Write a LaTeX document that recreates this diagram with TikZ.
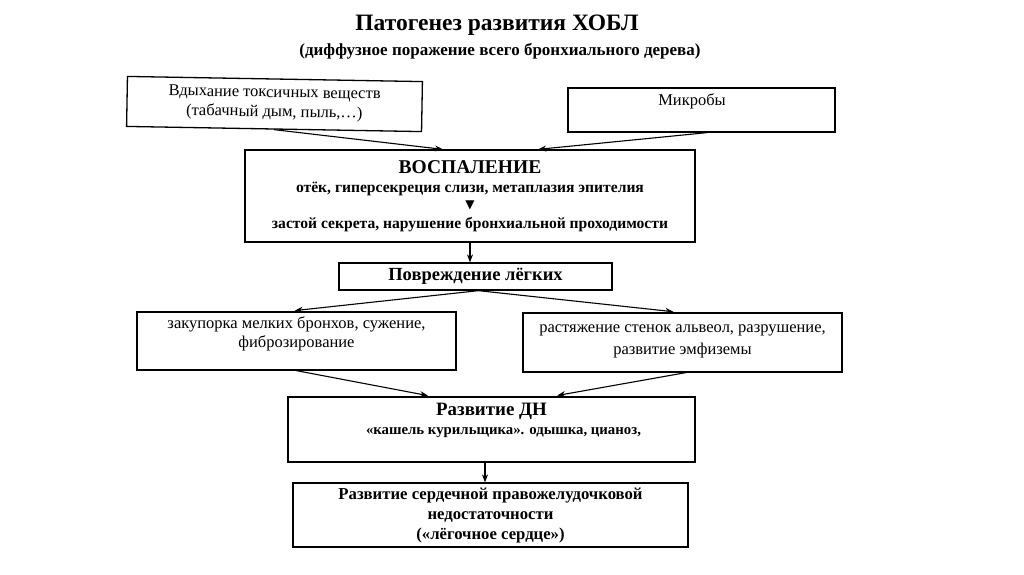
\documentclass[tikz,border=0pt]{standalone}
\usepackage{fontspec}
\setmainfont{Liberation Serif}
\newfontfamily\symfont{DejaVu Sans}
\usetikzlibrary{calc,arrows.meta}
% #1 width, #2 height, #3 top padding, #4 content
\newcommand{\tbox}[4]{\parbox[c][#2pt][t]{#1pt}{\vspace*{#3pt}\centering\strut #4\par}}
\tikzset{
  box/.style={draw, line width=1.3pt, inner sep=0pt},
  arr/.style={-{Stealth[length=8pt,width=6pt]}, line width=1.1pt},
  txt/.style={font=\fontsize{16.5}{19.5}\selectfont},
  btxt/.style={font=\bfseries\fontsize{15.6}{19}\selectfont},
}
\begin{document}
\begin{tikzpicture}[x=1pt,y=-1pt]
\useasboundingbox[fill=white] (0,0) rectangle (1024,574);
\node[font=\bfseries\fontsize{23.5}{26}\selectfont] (title) at (497,25) {Патогенез развития ХОБЛ};
\node[font=\bfseries\fontsize{17}{19}\selectfont] (sub) at (500,51) {(диффузное поражение всего бронхиального дерева)};

\node[box, txt, rotate=-1] (b1) at (274.5,104) {\tbox{295}{50}{4.6}{Вдыхание токсичных веществ\\(табачный дым, пыль,…)}};
\node[box, txt] (b2) at (701.5,110) {\tbox{267}{44}{3.4}{Микробы\hspace*{19pt}}};
\node[box, btxt] (inf) at (470,196) {\tbox{450}{92}{10.6}{{\fontsize{19.5}{19}\selectfont ВОСПАЛЕНИЕ}\\отёк, гиперсекреция слизи, метаплазия эпителия\\[-3pt]{\symfont\fontsize{12}{18}\selectfont ▼}\\[1pt]застой секрета, нарушение бронхиальной проходимости}};
\node[box, font=\bfseries\fontsize{18.5}{20}\selectfont, minimum width=273pt, minimum height=27pt] (pov) at (475.5,276.5) {Повреждение лёгких};
\node[box, txt] (left) at (296.5,341) {\tbox{319}{58}{2.5}{закупорка мелких бронхов, сужение,\\фиброзирование}};
\node[box, txt] (right) at (682.5,342.5) {\tbox{319}{59}{5.5}{растяжение стенок альвеол, разрушение,\\[3pt]развитие эмфиземы}};
\node[box, font=\bfseries\fontsize{14.8}{19}\selectfont] (dn) at (491.5,429.5) {\tbox{407}{65}{5.2}{{\fontsize{18.9}{18}\selectfont Развитие ДН}\\\hspace*{24pt}«кашель курильщика». одышка, цианоз,}};
\node[box, font=\bfseries\fontsize{16.7}{20}\selectfont] (fin) at (490.5,515) {\tbox{395}{64}{2.0}{Развитие сердечной правожелудочковой\\недостаточности\\(«лёгочное сердце»)}};

\draw[arr] (b1.south) -- ($(inf.north west)!0.44!(inf.north east)$);
\draw[arr] ($(b2.south west)!0.52!(b2.south east)$) -- ($(inf.north west)!0.651!(inf.north east)$);
\draw[arr] (inf.south) -- (inf.south |- pov.north);
\draw[arr, shorten >=7pt] ([xshift=3pt]pov.south) -- ($(left.north west)!0.473!(left.north east)$);
\draw[arr, shorten >=6pt] ([xshift=3pt]pov.south) -- ($(right.north west)!0.49!(right.north east)$);
\draw[arr, shorten >=4pt] (left.south) -- ($(dn.north west)!0.354!(dn.north east)$);
\draw[arr, shorten >=5pt] ($(right.south west)!0.51!(right.south east)$) -- ($(dn.north west)!0.649!(dn.north east)$);
\draw[arr] ([xshift=-6.5pt]dn.south) -- ([xshift=-6.5pt]dn.south |- fin.north);
\end{tikzpicture}
\end{document}
